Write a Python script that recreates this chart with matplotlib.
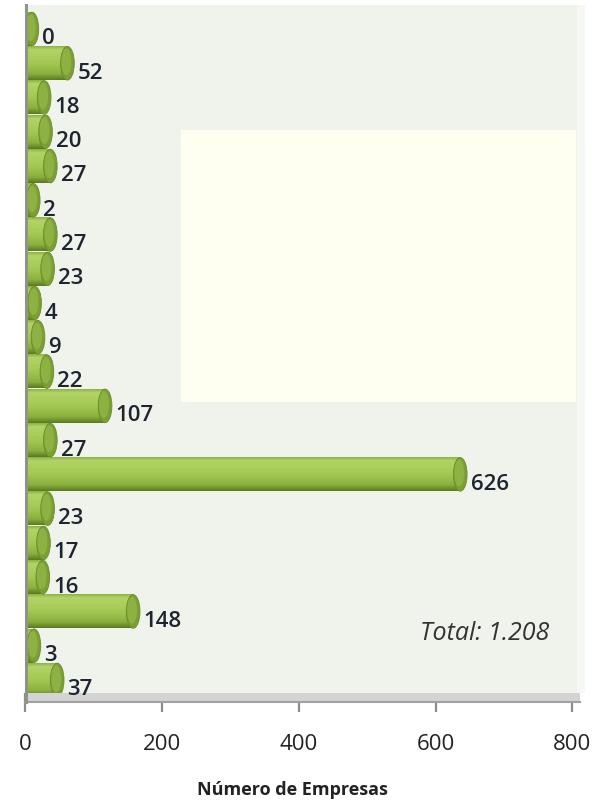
import matplotlib
matplotlib.use("Agg")
import matplotlib.pyplot as plt
import numpy as np
from matplotlib.colors import LinearSegmentedColormap
from matplotlib.patches import Ellipse, Rectangle

# ---- data (top to bottom) ----
valores = [0, 52, 18, 20, 27, 2, 27, 23, 4, 9, 22, 107, 27, 626, 23, 17, 16, 148, 3, 37]
x_ticks = [0, 200, 400, 600, 800]
x_label = "Número de Empresas"
total_text = "Total: 1.208"

W, H = 597, 807
fig = plt.figure(figsize=(W / 100, H / 100), dpi=100)
fig.patch.set_facecolor("white")

def fx(px):
    return px / W

def fy(py):
    return 1 - py / H

ax_left, ax_right, ax_top, ax_bottom = 25, 580, 5, 693
ax = fig.add_axes([fx(ax_left), fy(ax_bottom), fx(ax_right - ax_left), (ax_bottom - ax_top) / H])
ax.set_facecolor("#eff3ec")

n = len(valores)
pos = np.arange(n)
h = 0.98
xmax = 811
cap_w = 20

cmap = LinearSegmentedColormap.from_list(
    "cyl",
    [(0.0, "#8fb246"), (0.1, "#b3d467"), (0.5, "#a3c852"), (0.82, "#8cb03f"), (1.0, "#5a7b20")],
)
grad = np.linspace(0, 1, 64).reshape(-1, 1)

for i, v in zip(pos, valores):
    end = v + cap_w / 2
    ax.imshow(grad, extent=[0, end, i + h / 2, i - h / 2], cmap=cmap,
              aspect="auto", interpolation="bilinear", zorder=2)
    cap = Ellipse((end, i), width=cap_w, height=h, facecolor="#7c9f35",
                  edgecolor="#6a8c2a", linewidth=0.6, zorder=3)
    ax.add_patch(cap)
    inner = Ellipse((end - 1.5, i - 0.04), width=cap_w * 0.72, height=h * 0.8,
                    facecolor="#8db142", edgecolor="none", zorder=3.1)
    ax.add_patch(inner)
    ax.text(v + 25, i + 0.29, str(v), ha="left", va="center", fontsize=16,
            family="Open Sans", fontweight="semibold", color="#1f2530",
            zorder=6, clip_on=False)

ax.set_xlim(0, xmax)
ax.set_ylim(n - 1 + 0.38, -0.7)
ax.set_yticks([])
ax.set_xticks(x_ticks)
ax.set_xticklabels([str(t) for t in x_ticks], fontsize=16, family="Open Sans", color="#222222")
ax.tick_params(axis="x", length=13.7, width=1.6, color="#8c8c8c", pad=16)
for s in ax.spines.values():
    s.set_visible(False)

# legend-like pale yellow box
fig.patches.append(Rectangle((fx(181), fy(402)), fx(576 - 181), (402 - 130) / H,
                             transform=fig.transFigure, facecolor="#fefff0",
                             edgecolor="none", zorder=1))

# right edge highlight
fig.patches.append(Rectangle((fx(577), fy(693)), fx(8), (693 - 5) / H,
                             transform=fig.transFigure, facecolor="#f6f8f4",
                             edgecolor="none", zorder=1))

# floor band (inside the axes so value labels stay on top)
ax.add_patch(Rectangle((fx(25), fy(702)), fx(555), 9 / H, transform=fig.transFigure,
                       facecolor="#d4d4d4", edgecolor="none", zorder=4, clip_on=False))
ax.add_line(plt.Line2D([fx(25), fx(580)], [fy(701.5), fy(701.5)], color="#a0a0a0",
                       lw=1.5, transform=fig.transFigure, zorder=4.5, clip_on=False))
# left wall
ax.add_line(plt.Line2D([fx(26), fx(26)], [fy(5), fy(702)], color="#8f948b",
                       lw=2.2, transform=fig.transFigure, zorder=5, clip_on=False))

fig.text(fx(485), fy(634), total_text, ha="center", va="center", fontsize=18,
         style="italic", family="Open Sans", color="#333333")
fig.text(fx(292), fy(790), x_label, ha="center", va="center", fontsize=13,
         fontweight="bold", family="Open Sans", color="#222222")

fig.savefig("out.png", dpi=100, facecolor="white")
